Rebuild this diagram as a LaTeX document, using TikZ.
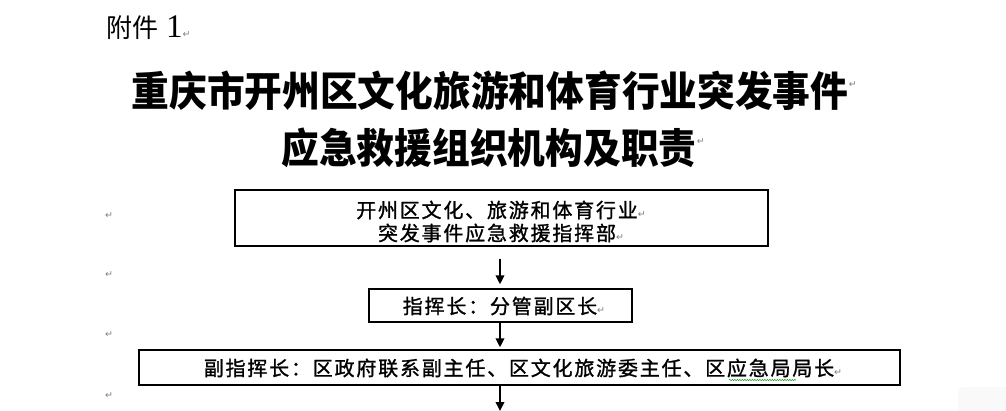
\documentclass[tikz,border=0pt]{standalone}
\usepackage{fontspec}
\setmainfont{Liberation Serif}
\newfontfamily\cjk{Noto Sans CJK SC}
\newfontfamily\cjkbox[LetterSpace=9,FakeBold=1.2]{Noto Sans CJK SC}
\newfontfamily\dejavu{DejaVu Sans}
\usetikzlibrary{arrows.meta,decorations.pathmorphing}
\newcommand\pmk{{\dejavu\fontsize{9.5}{9.5}\selectfont\textcolor{gray}{↵}}}
\tikzset{
  frame/.style={draw=black,line width=1.3pt,inner sep=0pt},
  boxtext/.style={inner sep=0pt,font=\cjkbox\fontsize{20}{24}\selectfont},
  titletext/.style={inner sep=0pt,font=\cjk\bfseries\fontsize{41}{48}\selectfont},
  flow/.style={line width=2pt,-{Triangle[length=9pt,width=8.5pt]}},
  pmnode/.style={inner sep=0pt}
}
\begin{document}
\begin{tikzpicture}[x=1pt,y=-1pt]
\useasboundingbox (0,0) rectangle (1006,411);
% heading
\node[anchor=base west,inner sep=0pt,font=\fontsize{26}{30}\selectfont] (att) at (106,38) {{\cjk 附件}\hspace{8pt}{\fontsize{33}{36}\selectfont 1}\pmk};
% title
\node[titletext] (t1) at (490,91) {\scalebox{0.92}[1]{重庆市开州区文化旅游和体育行业突发事件}};
\node[pmnode,anchor=west] (t1m) at ([yshift=6pt]t1.east) {\pmk};
\node[titletext] (t2) at (489,148) {\scalebox{0.92}[1]{应急救援组织机构及职责}};
\node[pmnode,anchor=west] (t2m) at ([yshift=6pt]t2.east) {\pmk};
% left paragraph marks
\node[pmnode] (p1) at (109,216) {\pmk};
\node[pmnode] (p2) at (109,275) {\pmk};
\node[pmnode] (p3) at (109,335) {\pmk};
\node[pmnode] (p4) at (109,396) {\pmk};
% boxes
\node[frame,minimum width=533pt,minimum height=56pt] (b1) at (501.5,218) {};
\node[boxtext] (b1a) at (501,210) {开州区文化、旅游和体育行业\pmk};
\node[boxtext] (b1b) at (501,233) {突发事件应急救援指挥部\pmk};
\node[frame,minimum width=263pt,minimum height=33pt] (b2) at (500.5,305.5) {};
\node[boxtext] (b2t) at (504,306) {指挥长：分管副区长\pmk};
\node[frame,minimum width=761pt,minimum height=35pt] (b3) at (519.5,367.5) {};
\node[boxtext] (b3t) at (523,368) {副指挥长：区政府联系副主任、区文化旅游委主任、区应急局局长\pmk};
% grammar squiggle
\coordinate (sq1) at (729,380);
\coordinate (sq2) at (796,380);
\draw[green!60!black,line width=0.5pt,decorate,decoration={snake,amplitude=0.6pt,segment length=2.5pt}] (sq1) -- (sq2);
% arrows
\coordinate (end) at (500,411);
\draw[flow,shorten <=12pt,shorten >=4pt] (b1.south -| end) -- (b2.north -| end);
\draw[flow,shorten >=2pt] (b2.south -| end) -- (b3.north -| end);
\draw[flow] (b3.south -| end) -- (end);
% faint corner artefact
\fill[gray!5,rounded corners=6pt] (958,387) rectangle (1020,430);
\end{tikzpicture}
\end{document}
